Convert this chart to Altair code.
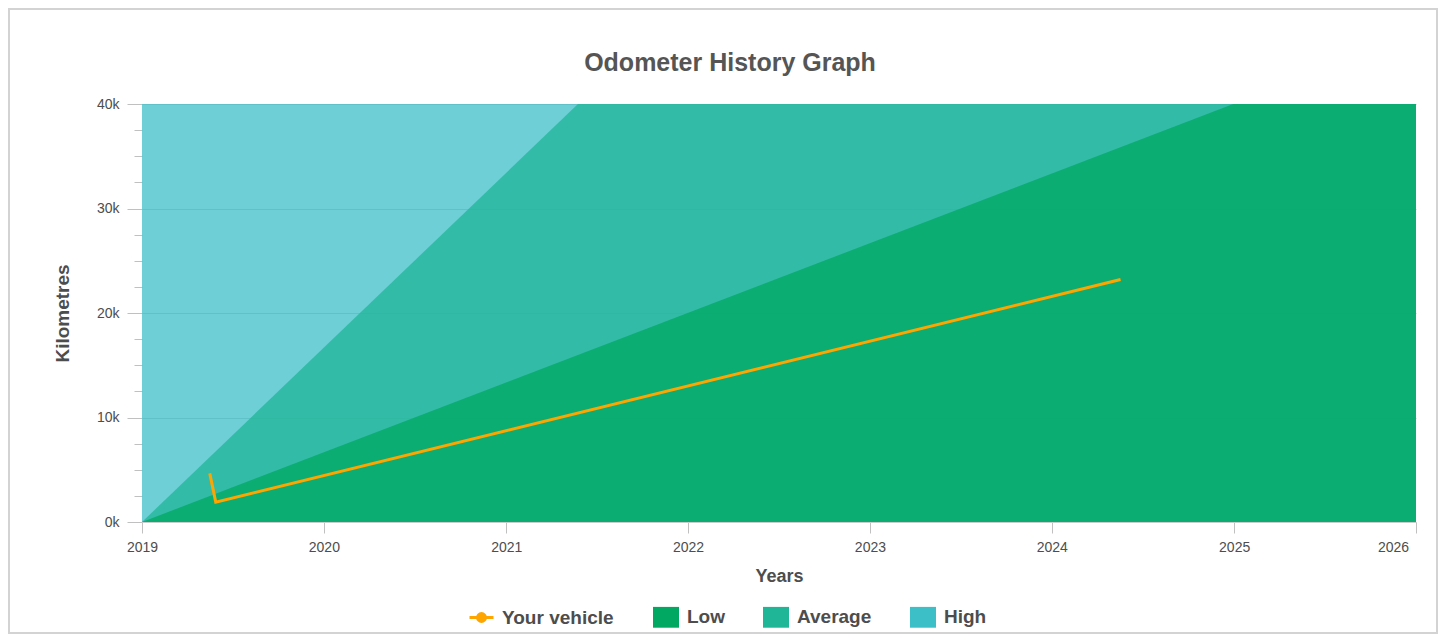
import altair as alt
import pandas as pd

# ---- data ----
band_names = ["Low", "Average", "High"]
band_colors = ["#00A862", "#1FB597", "#3DBFC8"]

low_dates = ["2019-01-01", "2026-01-01"]
low_km = [0, 46700]
avg_dates = ["2019-01-01", "2026-01-01"]
avg_km = [0, 116900]
high_dates = ["2019-01-01", "2026-01-01"]
high_km = [40000, 40000]

vehicle_name = "Your vehicle"
vehicle_color = "#FFA500"
vehicle_dates = ["2019-05-17", "2019-05-29", "2024-05-18"]
vehicle_km = [4650, 1900, 23200]

year_ticks = list(range(2019, 2027))
km_ticks = list(range(0, 40001, 2500))

# ---- tables ----
bands = pd.DataFrame(
    {
        "band": ["Low"] * len(low_dates) + ["Average"] * len(avg_dates) + ["High"] * len(high_dates),
        "date": low_dates + avg_dates + high_dates,
        "km": low_km + avg_km + high_km,
    }
)
vehicle = pd.DataFrame({"vehicle": [vehicle_name] * len(vehicle_dates), "date": vehicle_dates, "km": vehicle_km})
frame_df = pd.DataFrame({"f": [0]})

W, H = 1274, 418
PAD = {"left": 134, "top": 96, "right": 22, "bottom": 112}

FONT = "Liberation Sans"
TXT = "#4d4d4d"

x_scale = alt.Scale(
    type="utc",
    domain=[alt.DateTime(year=2019, month=1, date=1, utc=True), alt.DateTime(year=2026, month=1, date=1, utc=True)],
)
y_scale = alt.Scale(domain=[0, 40000], nice=False)

x_axis = alt.Axis(
    values=[alt.DateTime(year=y, month=1, date=1, utc=True) for y in year_ticks],
    format="%Y",
    title="Years",
    titleFontSize=18,
    titleFontWeight="bold",
    titleColor=TXT,
    titleBaseline="middle",
    titleY=54,
    labelFontSize=14,
    labelColor=TXT,
    labelPadding=7,
    labelFlush=False,
    labelOffset={"condition": {"test": "utcyear(datum.value) == 2026", "value": -23}, "value": 0},
    tickSize=11,
    tickColor="#c0c0c0",
    domainColor="#cccccc",
    grid=False,
    labelOverlap=False,
)

y_axis = alt.Axis(
    values=km_ticks,
    labelExpr="datum.value % 10000 == 0 ? (datum.value / 1000) + 'k' : ''",
    title="Kilometres",
    titleFontSize=19,
    titleFontWeight="bold",
    titleColor=TXT,
    titleAngle=-90,
    titleBaseline="middle",
    titleX=-80,
    titleY=H / 2,
    labelFontSize=14,
    labelColor=TXT,
    labelPadding=8,
    tickSize={"condition": {"test": "datum.value % 10000 == 0", "value": 15}, "value": 8},
    tickColor="#c0c0c0",
    domain=False,
    grid=True,
    gridColor="#c8c8c8",
    gridOpacity={"condition": {"test": "datum.value % 10000 == 0", "value": 1}, "value": 0},
    labelOverlap=False,
)

fill_scale = alt.Scale(domain=band_names, range=band_colors)
fill_legend = alt.Legend(
    orient="none",
    legendX=511,
    legendY=500,
    direction="horizontal",
    title=None,
    symbolType="M-1,-0.8H1V0.8H-1Z",
    symbolSize=676,
    symbolStrokeWidth=0,
    symbolOpacity=1,
    labelFontSize=19,
    labelFontWeight="bold",
    labelColor=TXT,
    labelOffset=8,
    columnPadding=38,
)

stroke_scale = alt.Scale(domain=[vehicle_name], range=[vehicle_color])
stroke_legend = alt.Legend(
    orient="none",
    legendX=326,
    legendY=500,
    direction="horizontal",
    title=None,
    symbolType="M-1,0H1M0.33,0A0.33,0.33,0,1,1,-0.33,0A0.33,0.33,0,1,1,0.33,0",
    symbolSize=576,
    symbolStrokeWidth=3,
    symbolFillColor=vehicle_color,
    labelFontSize=19,
    labelFontWeight="bold",
    labelColor=TXT,
    labelOffset=7,
)

frame = (
    alt.Chart(frame_df)
    .mark_rect(filled=False, stroke="#d3d3d3", strokeWidth=2)
    .encode(
        x=alt.value(-PAD["left"] + 1),
        x2=alt.value(W + PAD["right"] - 1),
        y=alt.value(-PAD["top"] + 1),
        y2=alt.value(H + PAD["bottom"] - 1),
    )
)


def band_layer(name):
    return (
        alt.Chart(bands)
        .transform_filter(alt.datum.band == name)
        .mark_area(clip=True, fillOpacity=0.75)
        .encode(
            x=alt.X("date:T", scale=x_scale, axis=x_axis),
            y=alt.Y("km:Q", scale=y_scale, axis=y_axis, stack=None),
            fill=alt.Fill("band:N", scale=fill_scale, legend=fill_legend),
        )
    )


line = (
    alt.Chart(vehicle)
    .mark_line(strokeWidth=3, clip=True)
    .encode(
        x=alt.X("date:T", scale=x_scale, axis=x_axis),
        y=alt.Y("km:Q", scale=y_scale, axis=y_axis),
        stroke=alt.Stroke("vehicle:N", scale=stroke_scale, legend=stroke_legend),
    )
)

chart = (
    alt.layer(frame, band_layer("High"), band_layer("Average"), band_layer("Low"), line)
    .properties(
        width=W,
        height=H,
        padding=PAD,
        autosize=alt.AutoSizeParams(type="none"),
        background="white",
        title=alt.TitleParams(
            "Odometer History Graph",
            fontSize=25,
            fontWeight="bold",
            color="#555555",
            font=FONT,
            anchor="middle",
            frame="group",
            dx=-49,
            offset=0,
            dy=68,
        ),
    )
    .configure(font=FONT)
    .configure_view(stroke=None)
)

chart.save("out.html", embed_options={"renderer": "svg", "actions": False})
